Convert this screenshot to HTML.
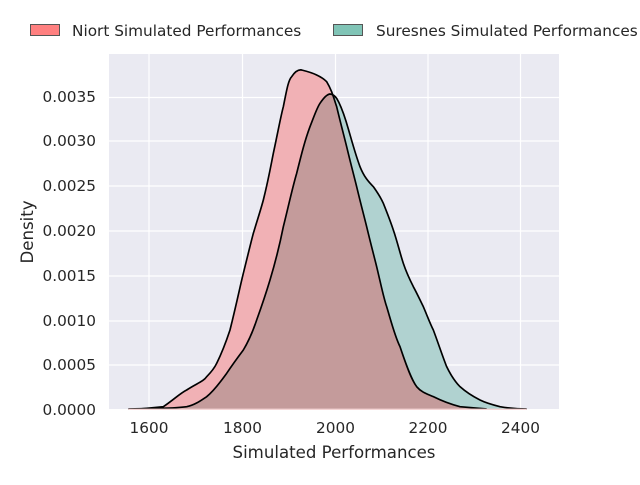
<!DOCTYPE html>
<html><head><style>
body{margin:0;background:#fff;}
svg text{font-family:"DejaVu Sans","Liberation Sans",sans-serif;fill:#262626;}
</style></head><body>
<svg width="640" height="480" xmlns="http://www.w3.org/2000/svg">
<rect x="109" y="54" width="450" height="355" fill="#eaeaf2"/>
<g stroke="#fff" stroke-width="1.2">
<line x1="149" y1="54" x2="149" y2="409"/><line x1="242.5" y1="54" x2="242.5" y2="409"/>
<line x1="335.5" y1="54" x2="335.5" y2="409"/><line x1="428" y1="54" x2="428" y2="409"/>
<line x1="520.5" y1="54" x2="520.5" y2="409"/>
<line x1="109" y1="97.5" x2="559" y2="97.5"/><line x1="109" y1="141" x2="559" y2="141"/>
<line x1="109" y1="186" x2="559" y2="186"/><line x1="109" y1="231" x2="559" y2="231"/>
<line x1="109" y1="276" x2="559" y2="276"/><line x1="109" y1="321" x2="559" y2="321"/>
<line x1="109" y1="365" x2="559" y2="365"/>
</g>
<defs>
<path id="red" d="M120,1107 L190,1100 C220,1080 240,1060 260,1050 C290,1030 310,1025 320,1010 C335,995 343,985 350,970 C370,930 380,900 390,870 C410,790 420,740 430,700 C445,640 452,610 460,580 C475,530 482,510 490,480 C505,420 512,380 520,340 C535,270 542,230 550,200 C560,150 565,120 575,110 C585,95 595,88 605,90 C625,95 640,100 650,105 C665,112 673,118 680,125 C695,150 700,170 710,200 C722,250 730,280 740,320 C752,370 760,400 770,440 C782,490 790,520 800,560 C812,610 820,640 830,680 C842,730 850,770 860,800 C875,850 885,890 900,920 C920,980 935,1020 950,1040 C965,1058 985,1063 1000,1070 C1030,1085 1060,1095 1080,1100 L1160,1107"/>
<path id="teal" d="M85,1107 L180,1105 C220,1104 240,1103 260,1100 C285,1095 305,1080 320,1070 C345,1050 365,1020 380,1000 C400,970 415,950 430,930 C448,900 460,870 470,840 C488,790 498,760 510,720 C528,660 540,610 550,560 C565,500 578,440 590,400 C605,340 615,300 630,260 C642,230 650,205 660,190 C670,175 680,163 690,162 C700,163 705,168 710,175 C725,200 732,225 740,250 C755,300 765,340 780,380 C792,410 805,425 820,440 C832,457 842,472 850,490 C862,520 870,540 880,570 C892,605 900,640 910,670 C920,700 930,720 940,740 C952,762 960,780 970,800 C982,828 990,850 1000,870 C1015,910 1028,950 1040,980 C1052,1005 1065,1025 1080,1040 C1100,1058 1120,1070 1140,1080 C1160,1090 1180,1095 1200,1100 C1230,1105 1255,1107 1280,1107"/>
<clipPath id="tc"><use href="#teal"/></clipPath>
</defs>
<g transform="translate(100,40) scale(0.33333)">
<use href="#teal" fill="#b0d2d0"/>
<use href="#red" fill="#f1b1b5"/>
<use href="#red" fill="#c49b9b" clip-path="url(#tc)"/>
<use href="#red" fill="none" stroke="#000" stroke-width="5"/>
<use href="#teal" fill="none" stroke="#000" stroke-width="5"/>
<line x1="85" y1="1108" x2="1280" y2="1108" stroke="#f6d6d6" stroke-width="4"/>
</g>
<g font-size="15.3" text-anchor="end">
<text x="96" y="415">0.0000</text><text x="96" y="370">0.0005</text>
<text x="96" y="326">0.0010</text><text x="96" y="281">0.0015</text>
<text x="96" y="236">0.0020</text><text x="96" y="191">0.0025</text>
<text x="96" y="146">0.0030</text><text x="96" y="102">0.0035</text>
</g>
<g font-size="15.3" text-anchor="middle">
<text x="149" y="433">1600</text><text x="242.5" y="433">1800</text>
<text x="335.5" y="433">2000</text><text x="428" y="433">2200</text>
<text x="520.5" y="433">2400</text>
</g>
<text x="334" y="458" font-size="16.6" text-anchor="middle">Simulated Performances</text>
<text transform="translate(33,232) rotate(-90)" font-size="16.6" text-anchor="middle">Density</text>
<rect x="30.5" y="24.5" width="29" height="11" fill="#ff8080" stroke="#555" stroke-width="1"/>
<text x="72" y="36" font-size="15.3">Niort Simulated Performances</text>
<rect x="333.5" y="24.5" width="29" height="11" fill="#80c4b6" stroke="#555" stroke-width="1"/>
<text x="376" y="36" font-size="15.3">Suresnes Simulated Performances</text>
</svg>
</body></html>
